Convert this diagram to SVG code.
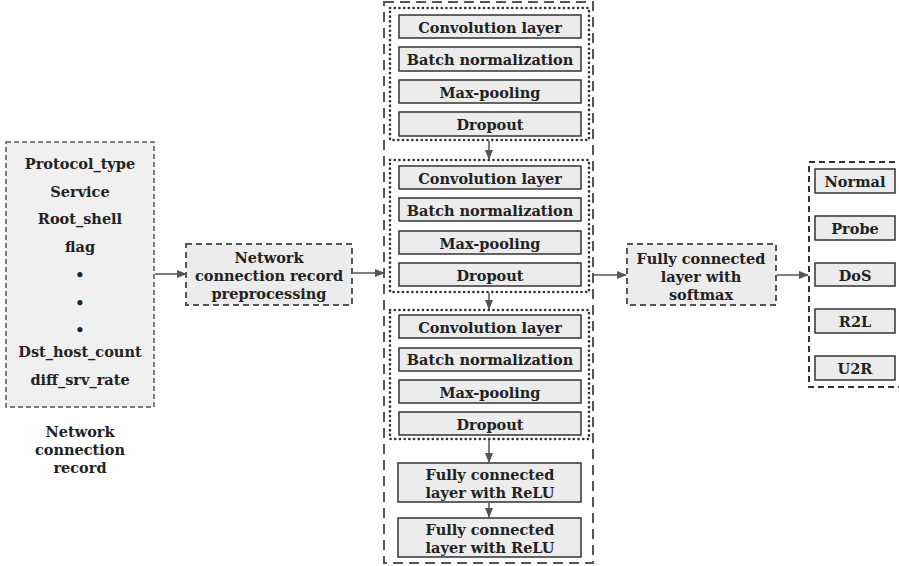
<svg xmlns="http://www.w3.org/2000/svg" width="899" height="566" viewBox="0 0 899 566">
<style>
text{font-family:"DejaVu Serif","Liberation Serif",serif;font-weight:bold;font-size:14.5px;fill:#222;text-anchor:middle;dominant-baseline:central}
.box{fill:#ececec;stroke:#333;stroke-width:1.5}
.dash{fill:#f0f0f0;stroke:#555;stroke-width:1.5;stroke-dasharray:5,3}
.dash2{fill:#ececec;stroke:#555;stroke-width:2;stroke-dasharray:6,4}
.big{fill:none;stroke:#555;stroke-width:2;stroke-dasharray:10,6}
.dot{fill:none;stroke:#333;stroke-width:2.6;stroke-dasharray:0.1,4.6;stroke-linecap:round}
.out{fill:none;stroke:#333;stroke-width:2;stroke-dasharray:6,4}
.conn line{stroke:#555;stroke-width:1.5;marker-end:url(#ah)}
</style>
<defs>
<marker id="ah" markerWidth="10" markerHeight="8" refX="9" refY="4" orient="auto" markerUnits="userSpaceOnUse">
<path d="M0,0 L10,4 L0,8 Z" fill="#555"/>
</marker>
</defs>
<rect width="899" height="566" fill="#fff"/>

<g id="record">
<rect class="dash" x="6" y="142" width="148" height="265"/>
<text x="80" y="163">Protocol_type</text>
<text x="80" y="191">Service</text>
<text x="80" y="218">Root_shell</text>
<text x="80" y="246">flag</text>
<text x="80" y="274">•</text>
<text x="80" y="302">•</text>
<text x="80" y="329">•</text>
<text x="80" y="351">Dst_host_count</text>
<text x="80" y="379">diff_srv_rate</text>
<text x="80" y="431">Network</text>
<text x="80" y="449">connection</text>
<text x="80" y="467">record</text>
</g>

<g id="preprocessing">
<rect class="dash2" x="186" y="244" width="166" height="61"/>
<text x="269" y="257">Network</text>
<text x="269" y="275">connection record</text>
<text x="269" y="293">preprocessing</text>
</g>

<g id="cnn">
<rect class="big" x="384" y="2" width="209" height="561"/>
</g>

<g id="block1">
<rect class="dot" x="390" y="8" width="199" height="132"/>
<rect class="box" x="399" y="15" width="182" height="23"/><text x="490" y="27">Convolution layer</text>
<rect class="box" x="399" y="47" width="182" height="24"/><text x="490" y="59">Batch normalization</text>
<rect class="box" x="399" y="80" width="182" height="23"/><text x="490" y="92">Max-pooling</text>
<rect class="box" x="399" y="112" width="182" height="24"/><text x="490" y="124">Dropout</text>
</g>

<g id="block2">
<rect class="dot" x="390" y="160" width="199" height="132"/>
<rect class="box" x="399" y="166" width="182" height="23"/><text x="490" y="178">Convolution layer</text>
<rect class="box" x="399" y="198" width="182" height="23"/><text x="490" y="210">Batch normalization</text>
<rect class="box" x="399" y="231" width="182" height="23"/><text x="490" y="243">Max-pooling</text>
<rect class="box" x="399" y="263" width="182" height="23"/><text x="490" y="275">Dropout</text>
</g>

<g id="block3">
<rect class="dot" x="390" y="310" width="199" height="129"/>
<rect class="box" x="399" y="315" width="182" height="23"/><text x="490" y="327">Convolution layer</text>
<rect class="box" x="399" y="348" width="182" height="23"/><text x="490" y="359">Batch normalization</text>
<rect class="box" x="399" y="380" width="182" height="23"/><text x="490" y="392">Max-pooling</text>
<rect class="box" x="399" y="412" width="182" height="23"/><text x="490" y="424">Dropout</text>
</g>

<g id="fc1">
<rect class="box" x="398" y="463" width="183" height="39"/>
<text x="490" y="474">Fully connected</text>
<text x="490" y="492">layer with ReLU</text>
</g>
<g id="fc2">
<rect class="box" x="398" y="518" width="183" height="39"/>
<text x="490" y="529">Fully connected</text>
<text x="490" y="547">layer with ReLU</text>
</g>

<g id="softmax">
<rect class="dash2" x="627" y="244" width="149" height="61"/>
<text x="701" y="258">Fully connected</text>
<text x="701" y="276">layer with</text>
<text x="701" y="294">softmax</text>
</g>

<g id="outputs">
<rect class="out" x="809" y="162" width="100" height="225"/>
<rect class="box" x="815" y="169" width="80" height="24"/><text x="855" y="181">Normal</text>
<rect class="box" x="815" y="216" width="80" height="24"/><text x="855" y="228">Probe</text>
<rect class="box" x="815" y="263" width="80" height="23"/><text x="855" y="275">DoS</text>
<rect class="box" x="815" y="309" width="80" height="24"/><text x="855" y="321">R2L</text>
<rect class="box" x="815" y="356" width="80" height="24"/><text x="855" y="368">U2R</text>
</g>

<g id="connectors" class="conn">
<line x1="155" y1="274" x2="186" y2="274"/>
<line x1="353" y1="273" x2="384" y2="273"/>
<line x1="489" y1="141" x2="489" y2="159"/>
<line x1="489" y1="293" x2="489" y2="309"/>
<line x1="489" y1="440" x2="489" y2="462"/>
<line x1="489" y1="503" x2="489" y2="517"/>
<line x1="594" y1="275" x2="626" y2="275"/>
<line x1="777" y1="275" x2="808" y2="275"/>
</g>
</svg>
